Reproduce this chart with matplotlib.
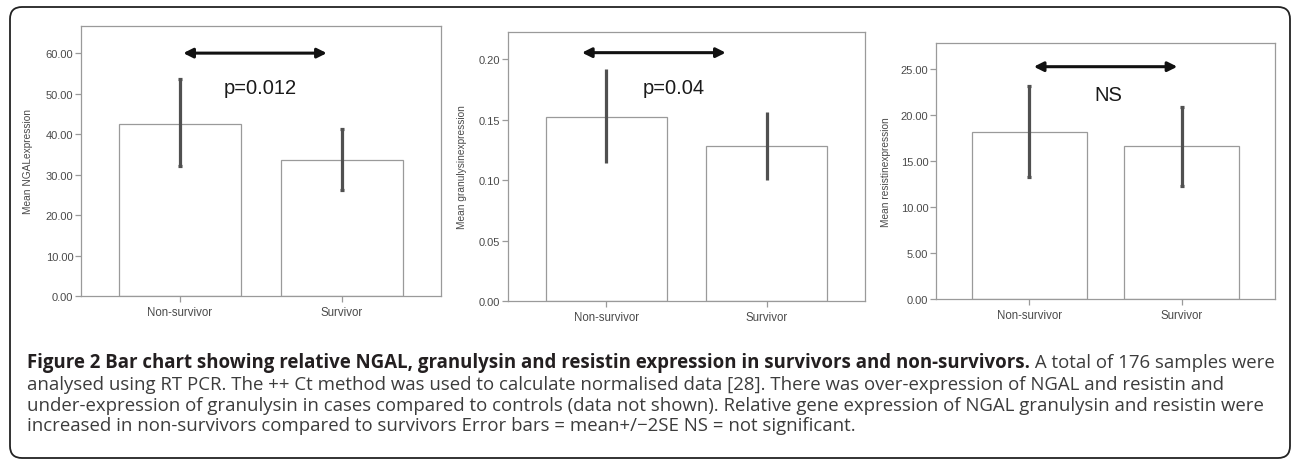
import matplotlib
matplotlib.use("Agg")
import matplotlib.pyplot as plt
from matplotlib.patches import FancyBboxPatch
import numpy as np

# data (mean with +/- 2SE limits)
categories = ['Non-survivor', 'Survivor']

ngal_mean = [42.6, 33.7]
ngal_low = [32.0, 26.2]
ngal_high = [53.6, 41.2]

gran_mean = [0.1526, 0.1283]
gran_low = [0.1139, 0.0999]
gran_high = [0.1917, 0.1564]

res_mean = [18.24, 16.65]
res_low = [13.27, 12.36]
res_high = [23.2, 20.86]

ylabels = ['Mean NGALexpression', 'Mean granulysinexpression', 'Mean resistinexpression']
sig_labels = ['p=0.012', 'p=0.04', 'NS']

W, H = 1292, 460
fig = plt.figure(figsize=(W / 100, H / 100), dpi=100)
fig.patch.set_facecolor('white')

# background axes in pixel coordinates for the frame and caption
bg = fig.add_axes([0, 0, 1, 1], zorder=-1)
bg.set_xlim(0, W)
bg.set_ylim(H, 0)
bg.set_axis_off()
bg.add_patch(FancyBboxPatch((10, 8), 1280, 451, boxstyle="round,pad=0,rounding_size=12",
                            fc='none', ec='#222222', lw=1.3))

# panel layout in pixels: left, top, right, bottom
boxes = [(81, 27, 441, 297), (508, 33, 865, 302), (936, 44, 1275, 300)]
ylims = [66.7, 0.2226, 27.88]
yticks = [np.arange(0, 61, 10), np.arange(0, 0.201, 0.05), np.arange(0, 25.1, 5)]
label_off = [48, 41, 45]
caps = [1.6, 0, 1.6]
arrows = [(0.02, 0.907, 60.0), (-0.151, 0.745, 0.2055), (0.03, 0.972, 25.3)]
sig_pos = [(0.494, 51.6), (0.419, 0.177), (0.518, 22.3)]

means = [ngal_mean, gran_mean, res_mean]
lows = [ngal_low, gran_low, res_low]
highs = [ngal_high, gran_high, res_high]

grey = '#9a9a9a'
txtgrey = '#4a4a4a'
x = np.arange(len(categories))

for i in range(3):
    l, t, r, b = boxes[i]
    ax = fig.add_axes([l / W, (H - b) / H, (r - l) / W, (b - t) / H])
    m = np.array(means[i])
    yerr = np.vstack([m - np.array(lows[i]), np.array(highs[i]) - m])
    ax.bar(x, m, width=0.753, color='white', edgecolor=grey, lw=0.9, zorder=2)
    ax.errorbar(x, m, yerr=yerr, fmt='none', ecolor='#505050', elinewidth=2.3,
                capsize=caps[i], capthick=2.3, zorder=3)
    ax.set_xlim(-0.612, 1.613)
    ax.set_ylim(0, ylims[i])
    ax.set_yticks(yticks[i])
    ax.set_yticklabels(['{:.2f}'.format(v) for v in yticks[i]])
    ax.set_xticks(x)
    ax.set_xticklabels(categories)
    for s in ax.spines.values():
        s.set_color(grey)
        s.set_linewidth(0.9)
    ax.tick_params(axis='both', colors=grey, length=4.5, width=0.9, labelsize=8,
                   labelcolor=txtgrey)
    ax.tick_params(axis='x', pad=2.5, labelsize=8.3)
    ax.tick_params(axis='y', pad=1)
    for lab in ax.get_xticklabels() + ax.get_yticklabels():
        lab.set_fontfamily('Liberation Sans')
    ax.set_ylabel(ylabels[i], fontsize=7.3, color=txtgrey, family='Liberation Sans')
    ax.yaxis.set_label_coords(-label_off[i] / (r - l), 0.5)

    x0, x1, ya = arrows[i]
    ax.annotate('', xy=(x1, ya), xytext=(x0, ya),
                arrowprops=dict(arrowstyle='<|-|>', color='#111111', lw=2.2,
                                mutation_scale=14, shrinkA=0, shrinkB=0))
    sx, sy = sig_pos[i]
    ax.text(sx, sy, sig_labels[i], ha='center', va='center', fontsize=14.5,
            color='#1a1a1a', family='Liberation Sans')

# caption
bold_txt = 'Figure 2 Bar chart showing relative NGAL, granulysin and resistin expression in survivors and non-survivors.'
rest_txt = ' A total of 176 samples were'
lines = ['analysed using RT PCR. The ++ Ct method was used to calculate normalised data [28]. There was over-expression of NGAL and resistin and',
         'under-expression of granulysin in cases compared to controls (data not shown). Relative gene expression of NGAL granulysin and resistin were',
         'increased in non-survivors compared to survivors Error bars = mean+/\u22122SE NS = not significant.']

cap_font = 'Open Sans'
fs = 11.0
cx = 27
base = [368, 390.5, 411, 431]
fig.canvas.draw()
renderer = fig.canvas.get_renderer()

tb = bg.text(cx, base[0], bold_txt, fontsize=fs, fontweight='bold', family=cap_font,
             color='#231f20', va='baseline', ha='left')
ext = tb.get_window_extent(renderer)
tr = bg.text(cx + ext.width, base[0], rest_txt, fontsize=fs, family=cap_font,
             color='#3c3c3c', va='baseline', ha='left')
ext2 = tr.get_window_extent(renderer)
# scale caption so the first line spans the width seen in the figure
fs2 = fs * 1248 / (ext.width + ext2.width)
tb.set_fontsize(fs2)
tr.set_fontsize(fs2)
ext = tb.get_window_extent(renderer)
tr.set_x(cx + ext.width)
for k, ln in enumerate(lines):
    bg.text(cx, base[k + 1], ln, fontsize=fs2, family=cap_font, color='#3c3c3c',
            va='baseline', ha='left')

fig.savefig('out.png', dpi=100)
